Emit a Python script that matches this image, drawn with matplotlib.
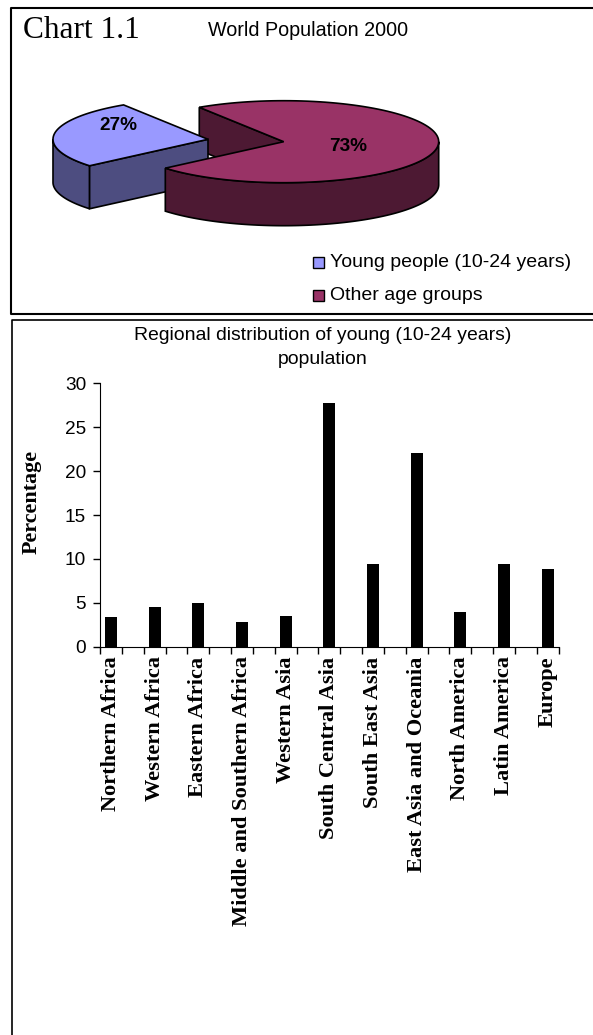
#plot.py

"""Redraws Chart 1.1: a 3-D looking pie of world population and a bar chart by region."""

import numpy as np
from matplotlib import pyplot as plt
from matplotlib.patches import Polygon, Rectangle

pie_labels = ["Young people (10-24 years)", "Other age groups"]
pie_shares = [27, 73]
pie_top_colors = ["#9999ff", "#993366"]
pie_side_colors = ["#4d4d80", "#4d1933"]

regions = ["Northern Africa", "Western Africa", "Eastern Africa",
           "Middle and Southern Africa", "Western Asia", "South Central Asia",
           "South East Asia", "East Asia and Oceania", "North America",
           "Latin America", "Europe"]
region_values = [3.4, 4.5, 5.0, 2.8, 3.5, 27.7, 9.4, 22.1, 3.9, 9.4, 8.9]
y_ticks = [0, 5, 10, 15, 20, 25, 30]

SANS = "Liberation Sans"
SERIF = "Liberation Serif"
W, H = 593, 1035


def arc(cx, cy, a, b, start, stop):
    """Points of an ellipse arc, angles in degrees, y pointing down."""
    t = np.radians(np.linspace(start, stop, 120))
    return np.column_stack([cx + a*np.cos(t), cy - b*np.sin(t)])


def draw_slice(ax, cx, cy, start, stop, top, side):
    """Draws one slice: its front rim, its visible cut wall and its top."""
    a, b, depth = 155, 41, 43
    drop = np.array([0, depth])
    #Front rim is the part of the arc in the lower half of the ellipse
    low, high = max(start, 180), min(stop, 360)
    rim = arc(cx, cy, a, b, low, high)
    ax.add_patch(Polygon(np.vstack([rim, (rim + drop)[::-1]]), fc=side, ec="black", lw=1.2))
    #Wall of the cut at the end of the slice
    end = arc(cx, cy, a, b, stop, stop)[0]
    if stop < 270:
        wall = [(cx, cy), end, end + drop, (cx, cy + depth)]
        ax.add_patch(Polygon(wall, fc=side, ec="black", lw=1.2))
    outline = np.vstack([[(cx, cy)], arc(cx, cy, a, b, start, stop)])
    ax.add_patch(Polygon(outline, fc=top, ec="black", lw=1.2))


fig = plt.figure(figsize=(W/100, H/100), dpi=100)

#Background layer in pixel coordinates for the boxes and the pie
bg = fig.add_axes([0, 0, 1, 1])
bg.set_xlim(0, W)
bg.set_ylim(H, 0)
bg.axis("off")
bg.plot([W, 10.5, 10.5, W], [7.8, 7.8, 313.5, 313.5], color="black", lw=1.5)
bg.plot([W, 11.5, 11.5], [319.5, 319.5, H], color="black", lw=1.2)
bg.text(23, 30, "Chart 1.1", family=SERIF, fontsize=22.6, va="center", ha="left")
bg.text(308, 30.5, "World Population 2000", family=SANS, fontsize=14.2, va="center", ha="center")

#Angles come from the shares, the young slice is pulled out to the left
start_angle = 123
young_stop = start_angle + 360*pie_shares[0]/sum(pie_shares)
main_stop = young_stop + 360*pie_shares[1]/sum(pie_shares)
main_x, main_y = 283.7, 141.7
young_x, young_y = 208, 139.3

#Inner wall of the big slice shows through the gap
start_pt = arc(main_x, main_y, 155, 41, start_angle, start_angle)[0]
inner = [(main_x, main_y), start_pt, start_pt + [0, 43], (main_x, main_y + 43)]
bg.add_patch(Polygon(inner, fc=pie_side_colors[1], ec="black", lw=1.2))

draw_slice(bg, young_x, young_y, start_angle, young_stop, pie_top_colors[0], pie_side_colors[0])
draw_slice(bg, main_x, main_y, young_stop, main_stop, pie_top_colors[1], pie_side_colors[1])

bg.text(118.4, 126, "%d%%" % pie_shares[0], family=SANS, fontsize=13.7, weight="bold", ha="center", va="center")
bg.text(348.3, 146.7, "%d%%" % pie_shares[1], family=SANS, fontsize=13.7, weight="bold", ha="center", va="center")

#Legend
for label, color, y in zip(pie_labels, pie_top_colors, [262.5, 295.5]):
    bg.add_patch(Rectangle((313, y - 5.5), 11, 11, fc=color, ec="black", lw=1))
    bg.text(330, y, label, family=SANS, fontsize=14, ha="left", va="center")

bg.text(323, 335, "Regional distribution of young (10-24 years)", family=SANS, fontsize=13.95, ha="center", va="center")
bg.text(323, 360, "population", family=SANS, fontsize=13.95, ha="center", va="center")

#Bar chart, every second slot on the category axis holds a bar
left, right, top, bottom = 100, 558.7, 383.3, 646.7
ax = fig.add_axes([left/W, 1 - bottom/H, (right - left)/W, (bottom - top)/H])
ax.patch.set_alpha(0)
positions = np.arange(len(regions))*2
ax.bar(positions, region_values, width=0.55, color="black")
ax.set_xlim(-0.5, 20.5)
ax.set_ylim(0, 30)
ax.set_yticks(y_ticks)
ax.tick_params(axis="y", labelsize=13.7, length=5, width=1, pad=5, labelfontfamily=SANS)
ax.set_xticks(positions)
ax.set_xticklabels(regions, rotation=90, family=SERIF, fontsize=16.1, weight="bold")
ax.set_xticks(np.arange(-0.5, 21), minor=True)
ax.tick_params(axis="x", which="major", length=0, pad=7)
ax.tick_params(axis="x", which="minor", length=5, width=1)
ax.spines["top"].set_visible(False)
ax.spines["right"].set_visible(False)
bg.text(31.4, 502, "Percentage", family=SERIF, fontsize=15.8, weight="bold", rotation=90, ha="center", va="center")

plt.savefig("out.png", dpi=100)
